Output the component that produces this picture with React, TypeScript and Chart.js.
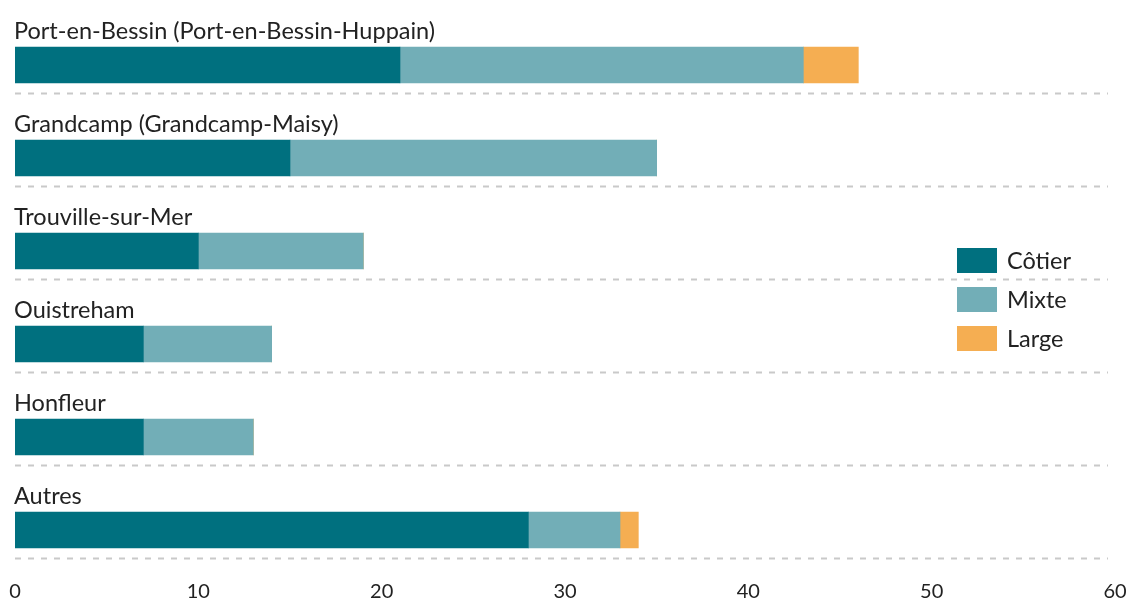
import React, { useEffect, useRef } from "react";
import { Chart, registerables } from "chart.js";

Chart.register(...registerables);

const categories = [
  "Port-en-Bessin (Port-en-Bessin-Huppain)",
  "Grandcamp (Grandcamp-Maisy)",
  "Trouville-sur-Mer",
  "Ouistreham",
  "Honfleur",
  "Autres",
];
const cotier = [21, 15, 10, 7, 7, 28];
const mixte = [22, 20, 9, 7, 6, 5];
const large = [3, 0, 0, 0, 0, 1];
const xTicks = [0, 10, 20, 30, 40, 50, 60];

const COLORS = { cotier: "#00707f", mixte: "#72aeb7", large: "#f5ae52" };
const FONT = "Lato, 'Open Sans', sans-serif";

const overlayPlugin = {
  id: "overlay",
  beforeDatasetsDraw(chart: any) {
    const { ctx, chartArea } = chart;
    const y = chart.scales.y;
    ctx.save();
    ctx.strokeStyle = "#c9c9c9";
    ctx.lineWidth = 2;
    ctx.setLineDash([6, 7]);
    categories.forEach((_, i) => {
      const c = y.getPixelForValue(i);
      const half = (y.getPixelForValue(1) - y.getPixelForValue(0)) / 2;
      const yy = Math.round(c + half * 0.6) + 0.5;
      ctx.beginPath();
      ctx.moveTo(chartArea.left, yy);
      ctx.lineTo(chartArea.right - 7, yy);
      ctx.stroke();
    });
    ctx.restore();
  },
  afterDraw(chart: any) {
    const { ctx, chartArea } = chart;
    const meta = chart.getDatasetMeta(0);
    ctx.save();
    ctx.fillStyle = "#222";
    ctx.font = `23.5px ${FONT}`;
    ctx.textBaseline = "alphabetic";
    ctx.textAlign = "left";
    meta.data.forEach((bar: any, i: number) => {
      const top = bar.y - bar.height / 2;
      ctx.fillText(categories[i], chartArea.left - 1, top - 8);
    });
    // legend
    const items = [
      ["Côtier", COLORS.cotier],
      ["Mixte", COLORS.mixte],
      ["Large", COLORS.large],
    ];
    items.forEach(([label, color], i) => {
      const ty = 248 + i * 39;
      ctx.fillStyle = color;
      ctx.fillRect(957, ty, 40, 25);
      ctx.fillStyle = "#222";
      ctx.textBaseline = "middle";
      ctx.fillText(label, 1007, ty + 13);
    });
    ctx.restore();
  },
};

export default function App() {
  const ref = useRef<HTMLCanvasElement>(null);
  useEffect(() => {
    document.body.style.margin = "0";
    const chart = new Chart(ref.current!, {
      type: "bar",
      data: {
        labels: categories,
        datasets: [
          { label: "Côtier", data: cotier, backgroundColor: COLORS.cotier },
          { label: "Mixte", data: mixte, backgroundColor: COLORS.mixte },
          { label: "Large", data: large, backgroundColor: COLORS.large },
        ].map((d) => ({ ...d, barThickness: 36, borderWidth: 0 })),
      },
      options: {
        indexAxis: "y",
        animation: false,
        responsive: false,
        maintainAspectRatio: false,
        layout: { padding: { left: 15, right: 15, top: 18.5, bottom: 0 } },
        plugins: { legend: { display: false }, tooltip: { enabled: false } },
        scales: {
          x: {
            stacked: true,
            min: 0,
            max: 60,
            afterBuildTicks: (s: any) => {
              s.ticks = xTicks.map((v) => ({ value: v }));
            },
            afterFit: (s: any) => {
              s.height = 29.5;
            },
            grid: { display: false, drawTicks: false },
            border: { display: false },
            ticks: { color: "#222", font: { size: 20, family: FONT }, padding: 3, maxRotation: 0 },
          },
          y: {
            stacked: true,
            display: false,
            grid: { display: false },
          },
        },
      },
      plugins: [overlayPlugin],
    });
    return () => chart.destroy();
  }, []);
  return (
    <div style={{ width: 1130, height: 606 }}>
      <canvas ref={ref} width={1130} height={606} style={{ display: "block" }} />
    </div>
  );
}
